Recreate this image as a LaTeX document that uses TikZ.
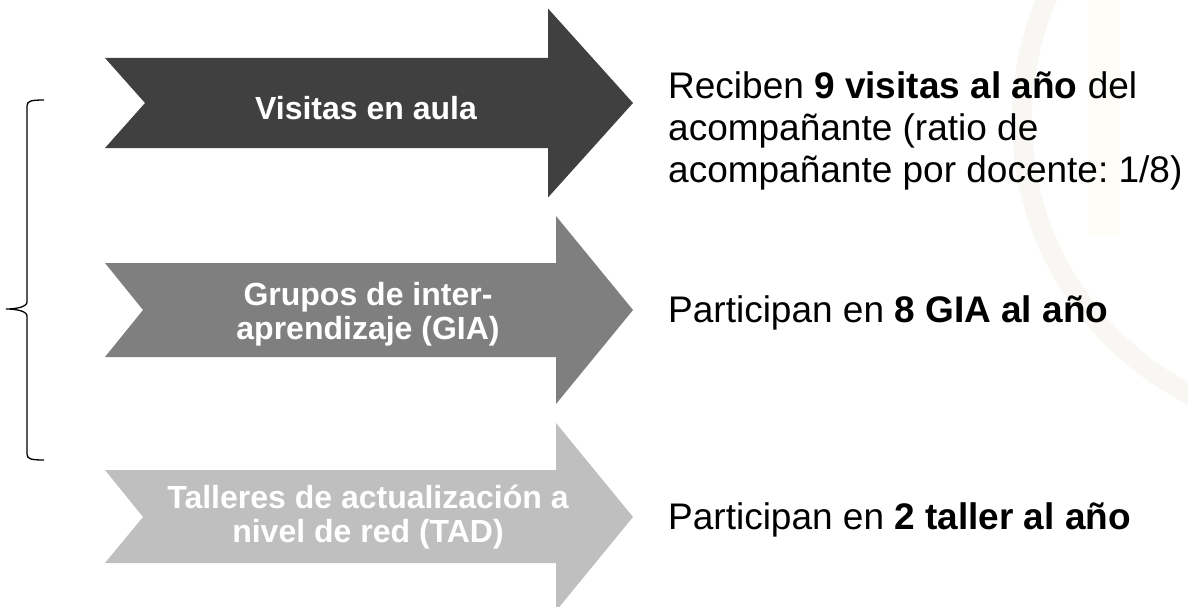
\documentclass[tikz,border=0pt]{standalone}
\usepackage{fontspec}
\setmainfont{Liberation Sans}
\frenchspacing
\definecolor{dk}{HTML}{404040}
\definecolor{md}{HTML}{7F7F7F}
\definecolor{lt}{HTML}{BFBFBF}
\definecolor{wm}{HTML}{F9F7F3}
\definecolor{wmb}{HTML}{FEFCF6}
\begin{document}
\begin{tikzpicture}[x=1pt,y=-1pt,
  arrowtxt/.style={text=white,font=\bfseries\fontsize{32}{34}\selectfont,align=center,inner sep=0pt},
  sidetxt/.style={font=\fontsize{37}{42}\selectfont,align=left,anchor=west,inner sep=0pt},
  bracestyle/.style={draw=black,line width=1.3pt}]
\useasboundingbox (0,0) rectangle (1188,607);
\clip (0,0) rectangle (1188,607);
% faint watermark
\fill[wmb] (1088,0) rectangle (1120,235);
\draw[line width=20pt, wm] (1330,120) circle (308);
% arrows
\fill[dk] (105,58) -- (548,58) -- (548,8.5) -- (633,103) -- (548,197.5) -- (548,148) -- (105,148) -- (145,103) -- cycle;
\fill[md] (105,263) -- (556,263) -- (556,216) -- (633,310) -- (556,404) -- (556,357) -- (105,357) -- (143,310) -- cycle;
\fill[lt] (105,470) -- (556,470) -- (556,423) -- (633,517) -- (556,611) -- (556,563) -- (105,563) -- (143,517) -- cycle;
\node[arrowtxt] (a1) at (366,108) {Visitas en aula};
\node[arrowtxt] (a2) at (368,314) {Grupos de inter-\\aprendizaje (GIA)};
\node[arrowtxt] (a3) at (368,517) {Talleres de actualización a\\nivel de red (TAD)};
% brace
\draw[bracestyle] (44,100) .. controls (31,100) and (27,101) .. (27,106) -- (27,302)
  .. controls (27,307) and (16,309) .. (6,309) .. controls (16,309) and (27,311) .. (27,316)
  -- (27,454) .. controls (27,459) and (31,460) .. (44,460);
% side texts
\node[sidetxt] (t1) at (668,131) {Reciben \textbf{9 visitas al año} del\\acompañante (ratio de\\acompañante por docente: 1/8)};
\node[sidetxt] (t2) at (668,313) {Participan en \textbf{8 GIA al año}};
\node[sidetxt] (t3) at (668,520) {Participan en \textbf{2 taller al año}};
\end{tikzpicture}
\end{document}
